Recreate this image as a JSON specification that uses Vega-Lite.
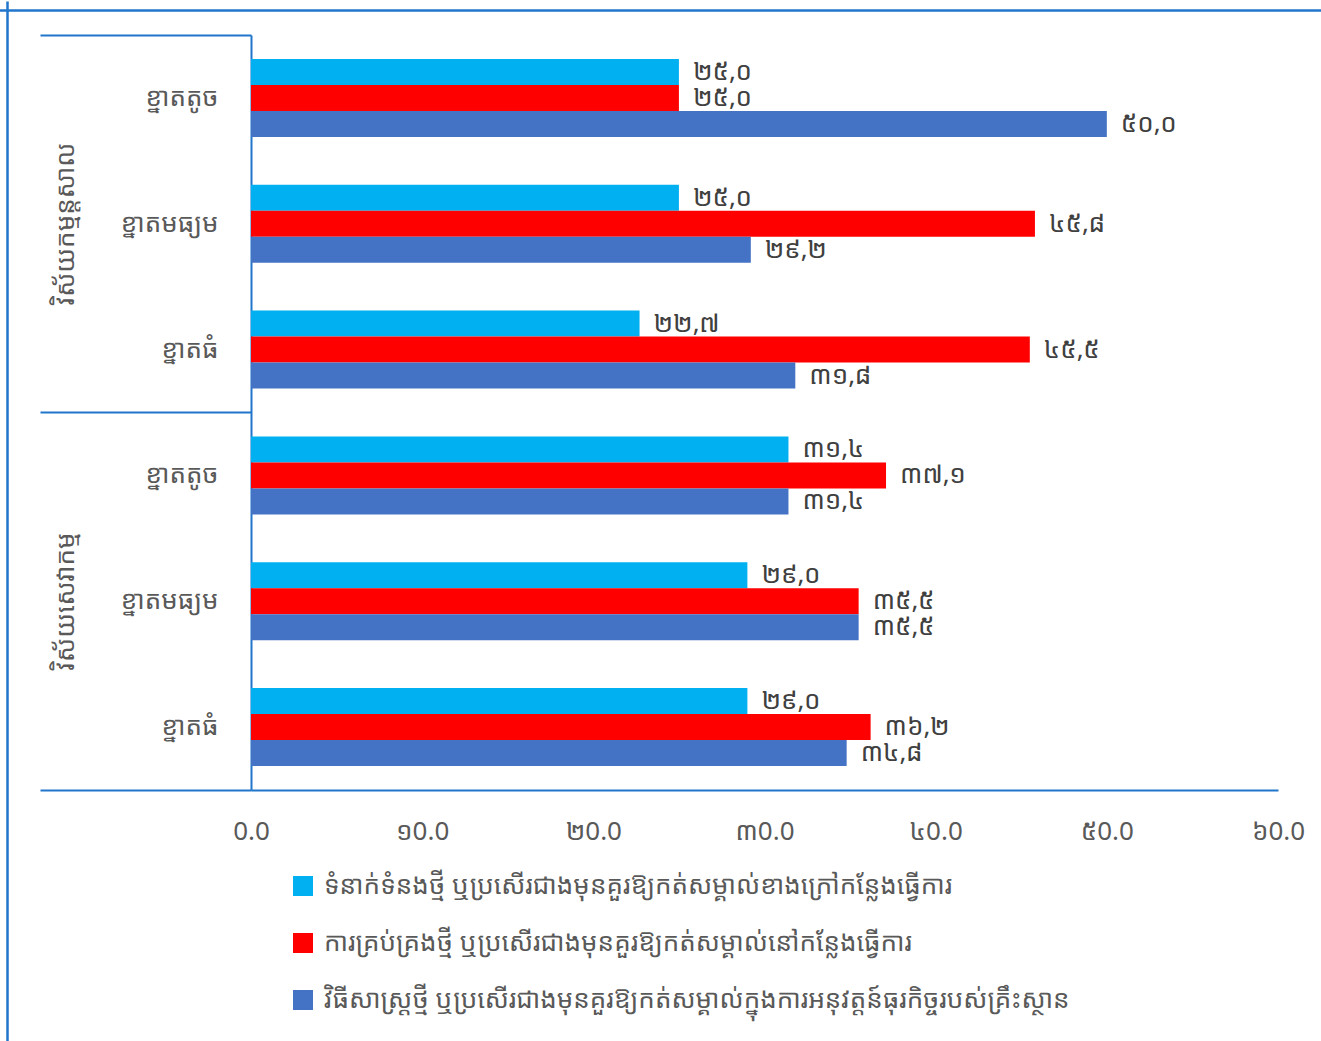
{
  "$schema": "https://vega.github.io/schema/vega-lite/v6.json",
  "autosize": "none",
  "width": 1027,
  "height": 755,
  "padding": {"left": 251, "top": 35, "right": 43, "bottom": 251},
  "background": "white",
  "config": {
    "view": {"stroke": null},
    "font": "Noto Sans Khmer, Khmer OS, Noto Sans, DejaVu Sans"
  },
  "data": {
    "values": [
      {"cat": "M1", "series": "ទំនាក់ទំនងថ្មី ឬប្រសើរជាងមុនគួរឱ្យកត់សម្គាល់ខាងក្រៅកន្លែងធ្វើការ", "value": 25.0, "label": "២៥,០"},
      {"cat": "M1", "series": "ការគ្រប់គ្រងថ្មី ឬប្រសើរជាងមុនគួរឱ្យកត់សម្គាល់នៅកន្លែងធ្វើការ", "value": 25.0, "label": "២៥,០"},
      {"cat": "M1", "series": "វិធីសាស្ត្រថ្មី ឬប្រសើរជាងមុនគួរឱ្យកត់សម្គាល់ក្នុងការអនុវត្តន៍ធុរកិច្ចរបស់គ្រឹះស្ថាន", "value": 50.0, "label": "៥០,០"},
      {"cat": "M2", "series": "ទំនាក់ទំនងថ្មី ឬប្រសើរជាងមុនគួរឱ្យកត់សម្គាល់ខាងក្រៅកន្លែងធ្វើការ", "value": 25.0, "label": "២៥,០"},
      {"cat": "M2", "series": "ការគ្រប់គ្រងថ្មី ឬប្រសើរជាងមុនគួរឱ្យកត់សម្គាល់នៅកន្លែងធ្វើការ", "value": 45.8, "label": "៤៥,៨"},
      {"cat": "M2", "series": "វិធីសាស្ត្រថ្មី ឬប្រសើរជាងមុនគួរឱ្យកត់សម្គាល់ក្នុងការអនុវត្តន៍ធុរកិច្ចរបស់គ្រឹះស្ថាន", "value": 29.2, "label": "២៩,២"},
      {"cat": "M3", "series": "ទំនាក់ទំនងថ្មី ឬប្រសើរជាងមុនគួរឱ្យកត់សម្គាល់ខាងក្រៅកន្លែងធ្វើការ", "value": 22.7, "label": "២២,៧"},
      {"cat": "M3", "series": "ការគ្រប់គ្រងថ្មី ឬប្រសើរជាងមុនគួរឱ្យកត់សម្គាល់នៅកន្លែងធ្វើការ", "value": 45.5, "label": "៤៥,៥"},
      {"cat": "M3", "series": "វិធីសាស្ត្រថ្មី ឬប្រសើរជាងមុនគួរឱ្យកត់សម្គាល់ក្នុងការអនុវត្តន៍ធុរកិច្ចរបស់គ្រឹះស្ថាន", "value": 31.8, "label": "៣១,៨"},
      {"cat": "S1", "series": "ទំនាក់ទំនងថ្មី ឬប្រសើរជាងមុនគួរឱ្យកត់សម្គាល់ខាងក្រៅកន្លែងធ្វើការ", "value": 31.4, "label": "៣១,៤"},
      {"cat": "S1", "series": "ការគ្រប់គ្រងថ្មី ឬប្រសើរជាងមុនគួរឱ្យកត់សម្គាល់នៅកន្លែងធ្វើការ", "value": 37.1, "label": "៣៧,១"},
      {"cat": "S1", "series": "វិធីសាស្ត្រថ្មី ឬប្រសើរជាងមុនគួរឱ្យកត់សម្គាល់ក្នុងការអនុវត្តន៍ធុរកិច្ចរបស់គ្រឹះស្ថាន", "value": 31.4, "label": "៣១,៤"},
      {"cat": "S2", "series": "ទំនាក់ទំនងថ្មី ឬប្រសើរជាងមុនគួរឱ្យកត់សម្គាល់ខាងក្រៅកន្លែងធ្វើការ", "value": 29.0, "label": "២៩,០"},
      {"cat": "S2", "series": "ការគ្រប់គ្រងថ្មី ឬប្រសើរជាងមុនគួរឱ្យកត់សម្គាល់នៅកន្លែងធ្វើការ", "value": 35.5, "label": "៣៥,៥"},
      {"cat": "S2", "series": "វិធីសាស្ត្រថ្មី ឬប្រសើរជាងមុនគួរឱ្យកត់សម្គាល់ក្នុងការអនុវត្តន៍ធុរកិច្ចរបស់គ្រឹះស្ថាន", "value": 35.5, "label": "៣៥,៥"},
      {"cat": "S3", "series": "ទំនាក់ទំនងថ្មី ឬប្រសើរជាងមុនគួរឱ្យកត់សម្គាល់ខាងក្រៅកន្លែងធ្វើការ", "value": 29.0, "label": "២៩,០"},
      {"cat": "S3", "series": "ការគ្រប់គ្រងថ្មី ឬប្រសើរជាងមុនគួរឱ្យកត់សម្គាល់នៅកន្លែងធ្វើការ", "value": 36.2, "label": "៣៦,២"},
      {"cat": "S3", "series": "វិធីសាស្ត្រថ្មី ឬប្រសើរជាងមុនគួរឱ្យកត់សម្គាល់ក្នុងការអនុវត្តន៍ធុរកិច្ចរបស់គ្រឹះស្ថាន", "value": 34.8, "label": "៣៤,៨"}
    ]
  },
  "encoding": {
    "yOffset": {
      "field": "series",
      "type": "nominal",
      "sort": [
        "ទំនាក់ទំនងថ្មី ឬប្រសើរជាងមុនគួរឱ្យកត់សម្គាល់ខាងក្រៅកន្លែងធ្វើការ",
        "ការគ្រប់គ្រងថ្មី ឬប្រសើរជាងមុនគួរឱ្យកត់សម្គាល់នៅកន្លែងធ្វើការ",
        "វិធីសាស្ត្រថ្មី ឬប្រសើរជាងមុនគួរឱ្យកត់សម្គាល់ក្នុងការអនុវត្តន៍ធុរកិច្ចរបស់គ្រឹះស្ថាន"
      ],
      "scale": {"paddingInner": 0, "paddingOuter": 0.92}
    }
  },
  "layer": [
    {
      "mark": {"type": "bar"},
      "encoding": {
        "x": {
          "field": "value",
          "type": "quantitative",
          "scale": {"domain": [0, 60], "nice": false},
          "axis": {
            "title": null,
            "values": [0, 10, 20, 30, 40, 50, 60],
            "grid": false,
            "ticks": false,
            "domain": true,
            "domainColor": "#2176CC",
            "domainWidth": 2,
            "labelFlush": false,
            "labelOverlap": false,
            "labelPadding": 28,
            "labelFontSize": 26,
            "labelColor": "#595959",
            "labelExpr": "datum.value == 0 ? '0.0' : datum.value == 10 ? '១0.0' : datum.value == 20 ? '២0.0' : datum.value == 30 ? '៣0.0' : datum.value == 40 ? '៤0.0' : datum.value == 50 ? '៥0.0' : '៦0.0'"
          }
        },
        "y": {
          "field": "cat",
          "type": "nominal",
          "sort": ["M1", "M2", "M3", "S1", "S2", "S3"],
          "scale": {"paddingInner": 0, "paddingOuter": 0},
          "axis": {
            "orient": "left",
            "title": null,
            "ticks": false,
            "domain": true,
            "domainColor": "#2176CC",
            "domainWidth": 2,
            "labelPadding": 33,
            "labelFontSize": 26,
            "labelColor": "#595959",
            "labelExpr": "substring(datum.value, 1) == '1' ? 'ខ្នាតតូច' : substring(datum.value, 1) == '2' ? 'ខ្នាតមធ្យម' : 'ខ្នាតធំ'"
          }
        },
        "color": {
          "field": "series",
          "type": "nominal",
          "scale": {
            "domain": [
              "ទំនាក់ទំនងថ្មី ឬប្រសើរជាងមុនគួរឱ្យកត់សម្គាល់ខាងក្រៅកន្លែងធ្វើការ",
              "ការគ្រប់គ្រងថ្មី ឬប្រសើរជាងមុនគួរឱ្យកត់សម្គាល់នៅកន្លែងធ្វើការ",
              "វិធីសាស្ត្រថ្មី ឬប្រសើរជាងមុនគួរឱ្យកត់សម្គាល់ក្នុងការអនុវត្តន៍ធុរកិច្ចរបស់គ្រឹះស្ថាន"
            ],
            "range": ["#00B0F0", "#FF0000", "#4472C4"]
          },
          "legend": {
            "orient": "none",
            "legendX": 39,
            "legendY": 838,
            "direction": "vertical",
            "title": null,
            "padding": 0,
            "symbolType": "square",
            "symbolSize": 400,
            "symbolStrokeWidth": 0,
            "symbolOpacity": 1,
            "labelFontSize": 26,
            "labelColor": "#595959",
            "labelLimit": 0,
            "labelOffset": 8,
            "rowPadding": 31
          }
        }
      }
    },
    {
      "mark": {"type": "text", "align": "left", "baseline": "middle", "dx": 14, "fontSize": 26, "color": "#404040"},
      "encoding": {
        "x": {"field": "value", "type": "quantitative", "axis": null},
        "y": {
          "field": "cat",
          "type": "nominal",
          "sort": ["M1", "M2", "M3", "S1", "S2", "S3"],
          "scale": {"paddingInner": 0, "paddingOuter": 0},
          "axis": {
            "orient": "left",
            "title": null,
            "values": ["M1", "S1"],
            "bandPosition": 0,
            "ticks": true,
            "tickSize": 211,
            "tickColor": "#2176CC",
            "tickWidth": 2,
            "domain": false,
            "labelAngle": 270,
            "labelAlign": "center",
            "labelBaseline": "middle",
            "labelOffset": 126,
            "labelPadding": -25,
            "labelOverlap": false,
            "labelFlush": false,
            "labelFontSize": 26,
            "labelColor": "#595959",
            "labelExpr": "datum.value == 'M1' ? 'វិស័យកម្មន្តសាល' : 'វិស័យសេវាកម្ម'"
          }
        },
        "text": {"field": "label"}
      }
    },
    {
      "mark": {"type": "text", "opacity": 0},
      "encoding": {
        "x": {"field": "value", "type": "quantitative", "axis": null},
        "y": {
          "field": "cat",
          "type": "nominal",
          "sort": ["M1", "M2", "M3", "S1", "S2", "S3"],
          "scale": {"paddingInner": 0, "paddingOuter": 0},
          "axis": {
            "orient": "left",
            "title": null,
            "values": ["S3"],
            "bandPosition": 1,
            "ticks": true,
            "tickSize": 211,
            "tickColor": "#2176CC",
            "tickWidth": 2,
            "domain": false,
            "labels": false
          }
        },
        "text": {"value": ""}
      }
    },
    {
      "mark": {"type": "text", "opacity": 0},
      "encoding": {
        "x": {
          "field": "value",
          "type": "quantitative",
          "axis": {
            "orient": "top",
            "title": null,
            "values": [0],
            "offset": -1006,
            "tickOffset": -244,
            "ticks": true,
            "tickSize": 1040,
            "tickColor": "#2176CC",
            "tickWidth": 2.5,
            "domain": false,
            "grid": false,
            "labels": false
          }
        },
        "y": {
          "field": "cat",
          "type": "nominal",
          "sort": ["M1", "M2", "M3", "S1", "S2", "S3"],
          "scale": {"paddingInner": 0, "paddingOuter": 0},
          "axis": {
            "orient": "left",
            "title": null,
            "values": ["M1"],
            "bandPosition": 0,
            "offset": -1075,
            "tickOffset": -25,
            "ticks": true,
            "tickSize": 1330,
            "tickColor": "#2176CC",
            "tickWidth": 2.5,
            "domain": false,
            "labels": false
          }
        },
        "text": {"value": ""}
      }
    }
  ],
  "resolve": {"axis": {"y": "independent", "x": "independent"}}
}
